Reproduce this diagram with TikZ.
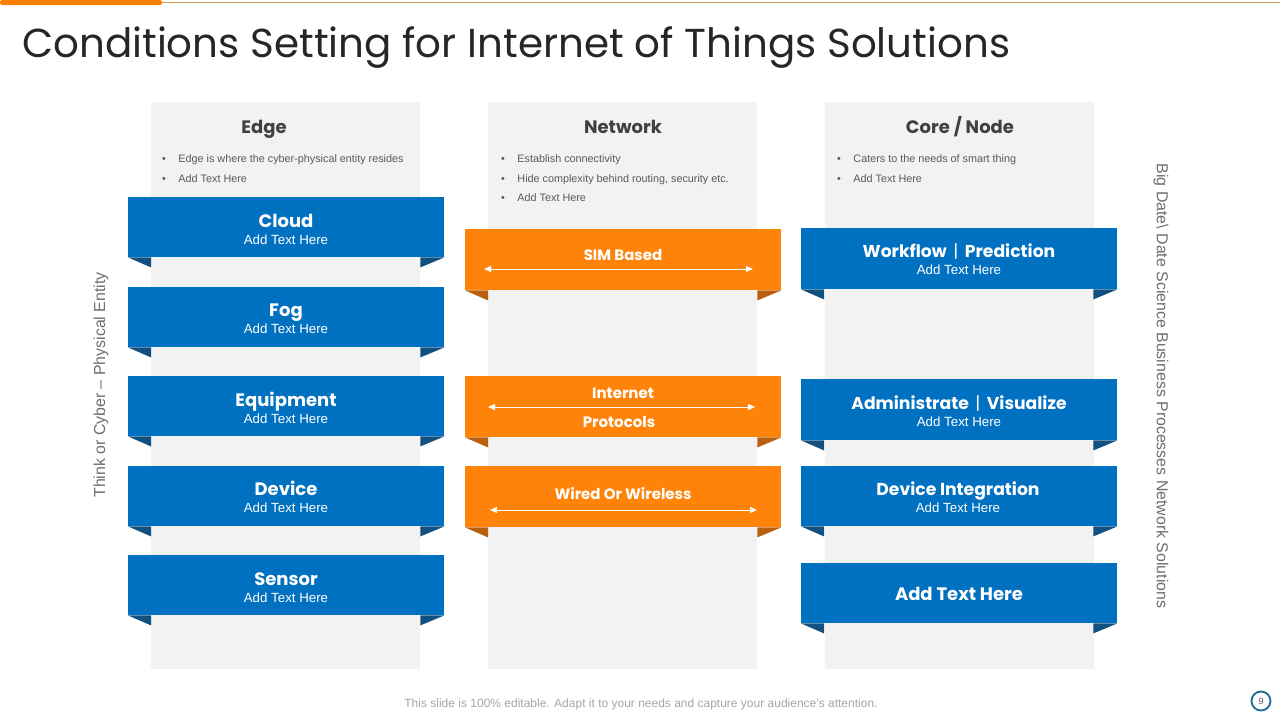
\documentclass[tikz,border=0pt]{standalone}
\usepackage{fontspec}
\setmainfont{Liberation Sans}
\newfontfamily\pop{Poppins}
\usetikzlibrary{arrows.meta}
\definecolor{ribblue}{HTML}{0070C0}
\definecolor{folblue}{HTML}{12507F}
\definecolor{riborange}{HTML}{FF8308}
\definecolor{folorange}{HTML}{B8600E}
\definecolor{colgrey}{HTML}{F2F2F2}
\definecolor{titlegrey}{HTML}{262626}
\definecolor{headgrey}{HTML}{404040}
\definecolor{bulgrey}{HTML}{595959}
\definecolor{sidegrey}{HTML}{6E6E6E}
\definecolor{footgrey}{HTML}{A6A6A6}
\definecolor{topline}{HTML}{C9A45C}
\definecolor{topbar}{HTML}{FF8000}
\definecolor{pagering}{HTML}{1F6A93}
\tikzset{
  colbox/.style={fill=colgrey, draw=none, minimum width=269pt, minimum height=567pt, inner sep=0pt, anchor=north west},
  ribbon/.style={draw=none, minimum width=316pt, minimum height=60pt, inner sep=0pt, anchor=north west},
  bluerib/.style={ribbon, fill=ribblue},
  orangerib/.style={ribbon, fill=riborange},
  header/.style={font=\pop\bfseries\fontsize{18}{20}\selectfont, text=headgrey, inner sep=0pt, anchor=base},
  bullet/.style={font=\fontsize{10.8}{12}\selectfont, text=bulgrey, inner sep=0pt, anchor=base west},
  ribtitle/.style={font=\pop\bfseries\fontsize{18}{20}\selectfont, text=white, inner sep=0pt, anchor=base},
  ribsub/.style={font=\fontsize{13.3}{15}\selectfont, text=white, inner sep=0pt, anchor=base},
  orgtitle/.style={font=\pop\bfseries\fontsize{15}{17}\selectfont, text=white, inner sep=0pt, anchor=base},
  wline/.style={draw=white, line width=1pt, {Triangle[width=6pt,length=7pt]}-{Triangle[width=6pt,length=7pt]}},
  sidetext/.style={font=\fontsize{15.9}{18}\selectfont, text=sidegrey, inner sep=0pt},
}
% \ribfolds{node}{dark colour}
\newcommand{\ribfolds}[2]{%
  \fill[#2] (#1.south west) -- ++(23,0) -- ++(0,10) -- cycle;
  \fill[#2] (#1.south east) -- ++(-24,0) -- ++(0,10) -- cycle;
}
\begin{document}
\begin{tikzpicture}[x=1pt,y=-1pt]
\useasboundingbox (0,0) rectangle (1280,720);
\fill[white] (0,0) rectangle (1280,720);
% top decoration
\draw[topline, line width=1pt] (160,2.5) -- (1280,2.5);
\fill[topbar, rounded corners=2pt] (0,0) rectangle (162,5);
% title
\node[anchor=base west, inner sep=0pt, text=titlegrey, font=\pop\fontsize{40.4}{44}\selectfont] (title) at (22,57) {Conditions Setting for Internet of Things Solutions};
% columns
\node[colbox] (colE) at (151,102) {};
\node[colbox] (colN) at (488,102) {};
\node[colbox] (colC) at (825,102) {};
% headers
\node[header] (hE) at (264,133) {Edge};
\node[header] (hN) at (623,133) {Network};
\node[header] (hC) at (960,133) {Core / Node};
% bullets
\node[bullet] (bE1) at (162,162) {\textbullet\hspace{12.5pt}Edge is where the cyber-physical entity resides};
\node[bullet] (bE2) at (162,182) {\textbullet\hspace{12.5pt}Add Text Here};
\node[bullet] (bN1) at (501,162) {\textbullet\hspace{12.5pt}Establish connectivity};
\node[bullet] (bN2) at (501,182) {\textbullet\hspace{12.5pt}Hide complexity behind routing, security etc.};
\node[bullet] (bN3) at (501,201) {\textbullet\hspace{12.5pt}Add Text Here};
\node[bullet] (bC1) at (837,162) {\textbullet\hspace{12.5pt}Caters to the needs of smart thing};
\node[bullet] (bC2) at (837,182) {\textbullet\hspace{12.5pt}Add Text Here};
% left ribbons
\node[bluerib] (cloud) at (128,197) {};
\node[bluerib] (fog) at (128,287) {};
\node[bluerib] (equip) at (128,376) {};
\node[bluerib] (device) at (128,466) {};
\node[bluerib] (sensor) at (128,555) {};
\ribfolds{cloud}{folblue}
\ribfolds{fog}{folblue}
\ribfolds{equip}{folblue}
\ribfolds{device}{folblue}
\ribfolds{sensor}{folblue}
\node[ribtitle] (tcloud) at (286,227) {Cloud};
\node[ribsub] (scloud) at (286,244) {Add Text Here};
\node[ribtitle] (tfog) at (286,316) {Fog};
\node[ribsub] (sfog) at (286,333) {Add Text Here};
\node[ribtitle] (tequip) at (286,406) {Equipment};
\node[ribsub] (sequip) at (286,423) {Add Text Here};
\node[ribtitle] (tdevice) at (286,495) {Device};
\node[ribsub] (sdevice) at (286,512) {Add Text Here};
\node[ribtitle] (tsensor) at (286,585) {Sensor};
\node[ribsub] (ssensor) at (286,602) {Add Text Here};
% network ribbons
\node[orangerib, minimum height=61pt] (sim) at (465,229) {};
\node[orangerib, minimum height=61pt] (inet) at (465,376) {};
\node[orangerib, minimum height=61pt] (wired) at (465,466) {};
\ribfolds{sim}{folorange}
\ribfolds{inet}{folorange}
\ribfolds{wired}{folorange}
\node[orgtitle] (tsim) at (623,260) {SIM Based};
\coordinate (simL) at (484,269);
\coordinate (simR) at (753,269);
\draw[wline] (simL) -- (simR);
\node[orgtitle] (tinet1) at (623,398) {Internet};
\node[orgtitle] (tinet2) at (619,427) {Protocols};
\coordinate (inetL) at (488,407);
\coordinate (inetR) at (755,407);
\draw[wline] (inetL) -- (inetR);
\node[orgtitle] (twired) at (623,499) {Wired Or Wireless};
\coordinate (wiredL) at (490,510);
\coordinate (wiredR) at (757,510);
\draw[wline] (wiredL) -- (wiredR);
% core ribbons
\node[bluerib, minimum height=61pt] (work) at (801,228) {};
\node[bluerib, minimum height=61pt] (admin) at (801,379) {};
\node[bluerib] (devint) at (801,466) {};
\node[bluerib] (addtxt) at (801,563) {};
\ribfolds{work}{folblue}
\ribfolds{admin}{folblue}
\ribfolds{devint}{folblue}
\ribfolds{addtxt}{folblue}
\node[ribtitle, font=\pop\bfseries\fontsize{17.2}{20}\selectfont] (twork) at (959,257) {Workflow {\normalfont\pop\,|\,} Prediction};
\node[ribsub] (swork) at (959,274) {Add Text Here};
\node[ribtitle, font=\pop\bfseries\fontsize{17.2}{20}\selectfont] (tadmin) at (959,409) {Administrate {\normalfont\pop\,|\,} Visualize};
\node[ribsub] (sadmin) at (959,426) {Add Text Here};
\node[ribtitle, font=\pop\bfseries\fontsize{17.2}{20}\selectfont] (tdevint) at (958,495) {Device Integration};
\node[ribsub] (sdevint) at (958,512) {Add Text Here};
\node[ribtitle] (taddtxt) at (959,600) {Add Text Here};
% side texts
\node[sidetext, rotate=90] (leftside) at (101,385) {Think or Cyber -- Physical Entity};
\node[sidetext, rotate=-90] (rightside) at (1161,386) {Big Date\textbackslash{} Date Science Business Processes Network Solutions};
% footer
\node[inner sep=0pt, text=footgrey, font=\fontsize{12}{14}\selectfont] (foot) at (641,704) {This slide is 100\% editable. Adapt it to your needs and capture your audience's attention.};
\node[circle, draw=pagering, line width=1.8pt, minimum size=19pt, inner sep=0pt, text=bulgrey, font=\fontsize{9}{10}\selectfont] (page) at (1261,701) {9};
\end{tikzpicture}
\end{document}
